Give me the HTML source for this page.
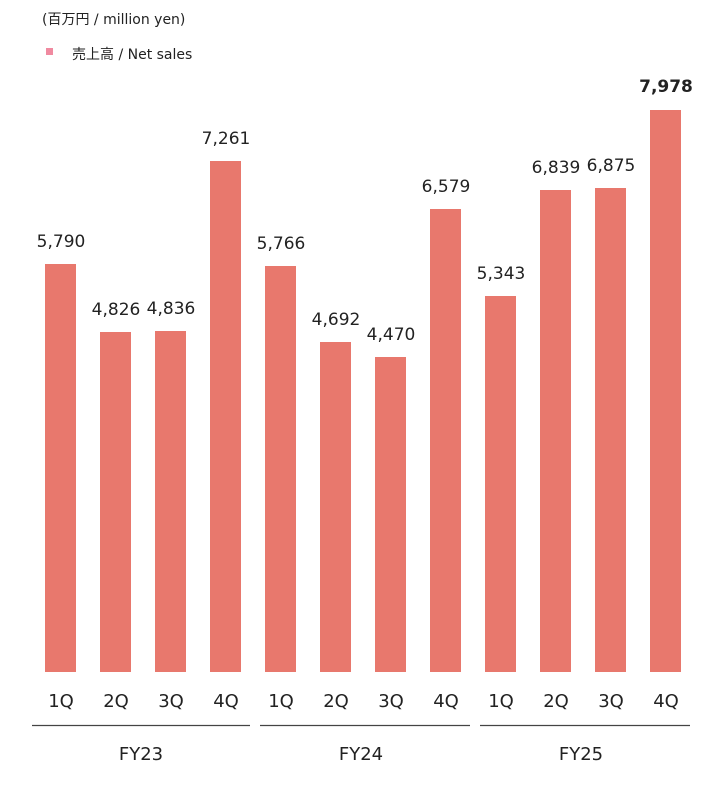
<!DOCTYPE html>
<html><head><meta charset="utf-8"><style>
body{margin:0;background:#fff;width:722px;height:785px;overflow:hidden}
svg text{font-family:"DejaVu Sans","Liberation Sans","Noto Sans CJK JP",sans-serif;fill:#222}
</style></head><body>
<svg width="722" height="785" xmlns="http://www.w3.org/2000/svg">
<text x="42" y="24" font-size="14">(百万円 / million yen)</text>
<rect x="46" y="48" width="7" height="7" fill="#f08aa0"/>
<text x="72" y="59" font-size="14">売上高 / Net sales</text>
<g fill="#e8786d">
<rect x="45" y="264" width="31" height="408"/>
<rect x="100" y="332" width="31" height="340"/>
<rect x="155" y="331" width="31" height="341"/>
<rect x="210" y="161" width="31" height="511"/>
<rect x="265" y="266" width="31" height="406"/>
<rect x="320" y="342" width="31" height="330"/>
<rect x="375" y="357" width="31" height="315"/>
<rect x="430" y="209" width="31" height="463"/>
<rect x="485" y="296" width="31" height="376"/>
<rect x="540" y="190" width="31" height="482"/>
<rect x="595" y="188" width="31" height="484"/>
<rect x="650" y="110" width="31" height="562"/>
</g>
<g font-size="17" text-anchor="middle">
<text x="61" y="247">5,790</text>
<text x="116" y="315">4,826</text>
<text x="171" y="314">4,836</text>
<text x="226" y="144">7,261</text>
<text x="281" y="249">5,766</text>
<text x="336" y="325">4,692</text>
<text x="391" y="340">4,470</text>
<text x="446" y="192">6,579</text>
<text x="501" y="279">5,343</text>
<text x="556" y="173">6,839</text>
<text x="611" y="171">6,875</text>
<text x="666" y="92" font-weight="bold">7,978</text>
</g>
<g font-size="18" text-anchor="middle">
<text x="61" y="707">1Q</text><text x="116" y="707">2Q</text><text x="171" y="707">3Q</text><text x="226" y="707">4Q</text>
<text x="281" y="707">1Q</text><text x="336" y="707">2Q</text><text x="391" y="707">3Q</text><text x="446" y="707">4Q</text>
<text x="501" y="707">1Q</text><text x="556" y="707">2Q</text><text x="611" y="707">3Q</text><text x="666" y="707">4Q</text>
<text x="141" y="760">FY23</text><text x="361" y="760">FY24</text><text x="581" y="760">FY25</text>
</g>
<g stroke="#444" stroke-width="1.2">
<line x1="32" y1="725.5" x2="250" y2="725.5"/>
<line x1="260" y1="725.5" x2="470" y2="725.5"/>
<line x1="480" y1="725.5" x2="690" y2="725.5"/>
</g>
</svg>
</body></html>
